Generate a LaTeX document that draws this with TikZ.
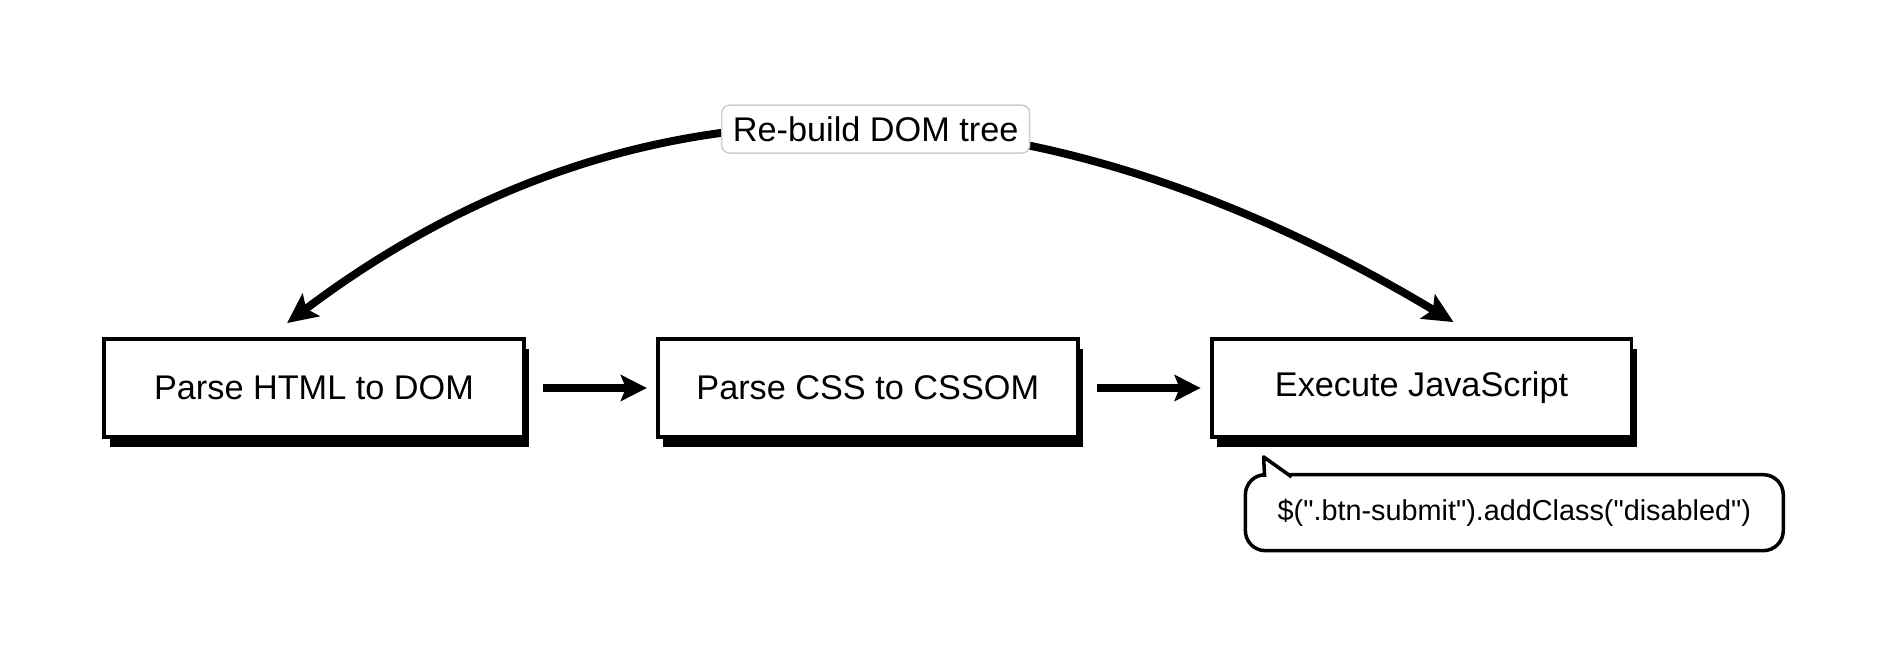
\documentclass[tikz,border=0pt]{standalone}
\usepackage{fontspec}
\setmainfont{Liberation Sans}
\newfontfamily\codefont{Liberation Sans}[Ligatures=TeXOff]
\usetikzlibrary{arrows.meta, positioning, shadows}

\begin{document}
\begin{tikzpicture}[
      x=0.02cm, y=-0.02cm,
      node distance=2.6cm,
      stage/.style={rectangle, draw, line width=2.2pt, minimum width=8.4cm, minimum height=1.96cm, fill=white, font=\fontsize{19.5}{23}\selectfont, drop shadow={shadow xshift=0.11cm, shadow yshift=-0.2cm, opacity=1, fill=black}},
      tag/.style={rectangle, draw=black!20, line width=0.8pt, rounded corners=0.16cm, fill=white, minimum width=6.16cm, minimum height=0.96cm, inner sep=0pt, font=\fontsize{19.5}{23}\selectfont},
      callout/.style={rectangle, draw, line width=2pt, rounded corners=0.4cm, fill=white, minimum width=10.76cm, minimum height=1.52cm, font=\codefont\fontsize{16.4}{20}\selectfont},
      flow/.style={-{Stealth[length=0.52cm, width=0.52cm, inset=0.1cm]}, line width=4pt, shorten <=0.34cm, shorten >=0.18cm},
      rebuild/.style={{Stealth[length=0.6cm, width=0.56cm, inset=0.12cm]}-{Stealth[length=0.6cm, width=0.56cm, inset=0.12cm]}, line width=4.5pt}
    ]
    \useasboundingbox (0,0) rectangle (1880,662);

    \node[stage] (html) at (314,388) {Parse HTML to DOM};
    \node[stage, right=of html] (cssom) {Parse CSS to CSSOM};
    \node[stage, right=of cssom] (js) {Execute JavaScript};

    \draw[flow] (html) -- (cssom);
    \draw[flow] (cssom) -- (js);

    % arc back to the first stage
    \draw[rebuild] ([xshift=-0.54cm, yshift=0.28cm]html.north) .. controls +(37:9.7cm) and +(149:8.7cm) .. ([xshift=0.64cm, yshift=0.3cm]js.north)
      node[tag, pos=0.5] (rebuildtag) {Re-build DOM tree};

    % speech bubble
    \node[callout, below right=0.68cm and 0.68cm of js.south west] (jquery) {\$(".btn-submit").addClass("disabled")};
    \draw[line width=2pt, fill=white, line join=round] ([xshift=0.42cm, yshift=-0.08cm]jquery.north west) -- ([xshift=0.4cm, yshift=0.32cm]jquery.north west) -- ([xshift=0.96cm, yshift=-0.08cm]jquery.north west);
  \end{tikzpicture}
\end{document}
